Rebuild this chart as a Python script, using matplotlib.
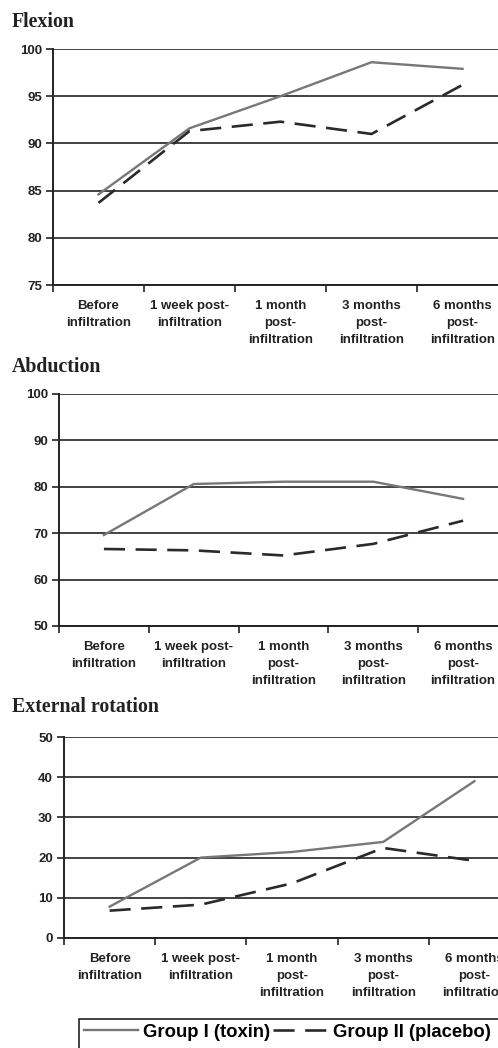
import matplotlib
matplotlib.use('Agg')
import matplotlib.pyplot as plt
from matplotlib.ticker import FixedLocator
from matplotlib.patches import Rectangle

# Data
categories = ['Before\ninfiltration', '1 week post-\ninfiltration', '1 month\npost-\ninfiltration',
              '3 months\npost-\ninfiltration', '6 months\npost-\ninfiltration']

flexion_toxin = [84.6, 91.6, 95.0, 98.6, 97.9]
flexion_placebo = [83.7, 91.3, 92.3, 91.0, 96.2]
flexion_ticks = [75, 80, 85, 90, 95, 100]

abduction_toxin = [69.6, 80.6, 81.1, 81.1, 77.4]
abduction_placebo = [66.6, 66.3, 65.2, 67.7, 72.7]
abduction_ticks = [50, 60, 70, 80, 90, 100]

rotation_toxin = [7.8, 20.0, 21.4, 23.9, 39.0]
rotation_placebo = [6.8, 8.3, 13.6, 22.4, 19.2]
rotation_ticks = [0, 10, 20, 30, 40, 50]

W, H = 498, 1048
fig = plt.figure(figsize=(W / 100, H / 100), dpi=100)

sans = 'Liberation Sans'
serif = 'Liberation Serif'


def px_axes(left, top, right, bottom):
    return fig.add_axes([left / W, 1 - bottom / H, (right - left) / W, (bottom - top) / H])


def draw_panel(ax, toxin, placebo, yticks, title, title_y):
    x = list(range(len(categories)))
    l1, = ax.plot(x, toxin, color='#777777', lw=1.7, solid_joinstyle='round', zorder=3)
    l2, = ax.plot(x, placebo, color='#2a2a2a', lw=1.9, linestyle=(0, (8, 4)), zorder=3)
    ax.set_xlim(-0.5, len(categories) - 0.5)
    ax.set_ylim(yticks[0], yticks[-1])
    ax.set_yticks(yticks)
    ax.set_xticks(x)
    ax.set_xticklabels(categories, fontfamily=sans, fontweight='bold', fontsize=9.5,
                       linespacing=1.55, color='#222222')
    ax.xaxis.set_minor_locator(FixedLocator([i - 0.5 for i in range(len(categories) + 1)]))
    ax.tick_params(axis='x', which='major', length=0, pad=11)
    ax.tick_params(axis='x', which='minor', length=5, width=1.2, direction='out', color='#222222')
    ax.tick_params(axis='y', length=5, width=1.2, pad=3, color='#222222')
    for lab in ax.get_yticklabels():
        lab.set_fontfamily(sans)
        lab.set_fontweight('bold')
        lab.set_fontsize(9.5)
        lab.set_color('#222222')
    ax.grid(axis='y', color='#222222', lw=1.2)
    ax.set_axisbelow(True)
    for s in ['top', 'right']:
        ax.spines[s].set_visible(False)
    for s in ['left', 'bottom']:
        ax.spines[s].set_color('#222222')
        ax.spines[s].set_linewidth(1.4)
    fig.text(12 / W, 1 - title_y / H, title, fontfamily=serif, fontweight='bold',
             fontsize=14.3, ha='left', va='baseline', color='#222222')
    return l1, l2


ax1 = px_axes(53, 49, 508, 285)
draw_panel(ax1, flexion_toxin, flexion_placebo, flexion_ticks, 'Flexion', 27)

ax2 = px_axes(59, 394, 508, 626)
draw_panel(ax2, abduction_toxin, abduction_placebo, abduction_ticks, 'Abduction', 372)

ax3 = px_axes(64, 737, 520, 938)
h1, h2 = draw_panel(ax3, rotation_toxin, rotation_placebo, rotation_ticks, 'External rotation', 712)

# legend box runs off the bottom/right edge like in the original scan
fig.patches.append(Rectangle((79 / W, -20 / H), 460 / W, (1048 - 1019 + 20) / H,
                             transform=fig.transFigure, fill=False,
                             edgecolor='#222222', lw=1.2))
leg = fig.legend([h1, h2], ['Group I (toxin)', 'Group II (placebo)'], loc='upper left',
                 bbox_to_anchor=(79 / W, 1 - 1019 / H), bbox_transform=fig.transFigure,
                 ncol=2, frameon=False, borderaxespad=0, borderpad=0.25,
                 handlelength=2.95, handletextpad=0.27, columnspacing=0.16,
                 prop={'family': sans, 'weight': 'bold', 'size': 13.3})

fig.savefig('out.png', dpi=100)
